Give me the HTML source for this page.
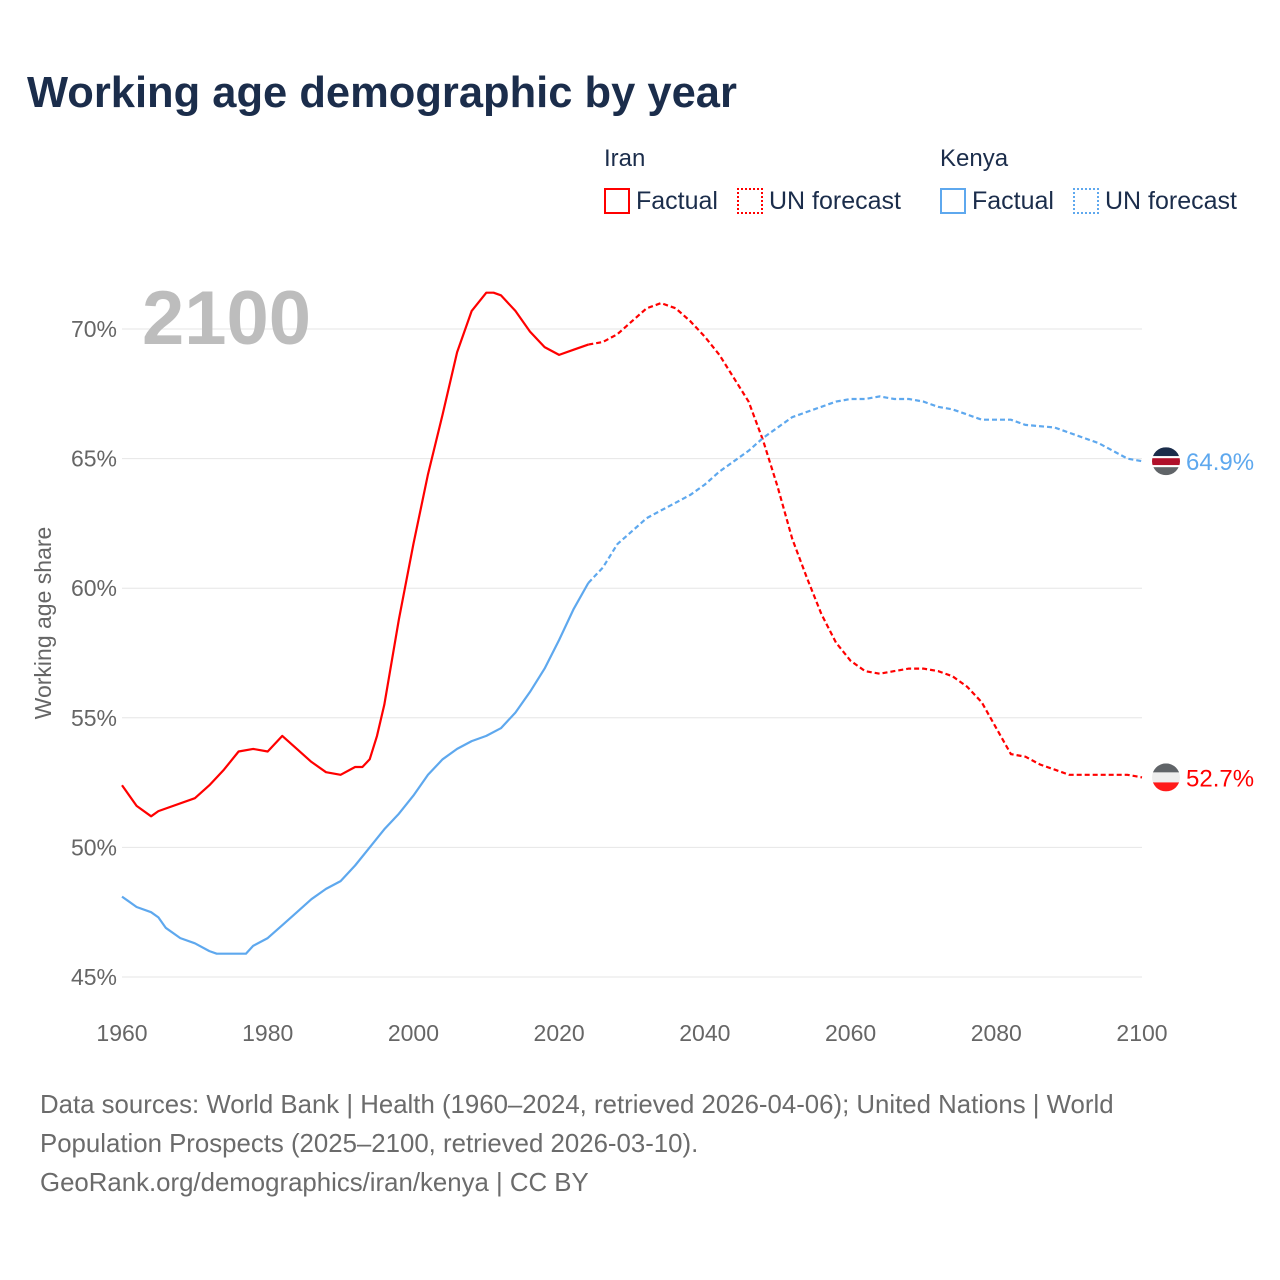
<!DOCTYPE html>
<html><head><meta charset="utf-8">
<style>
body{margin:0;background:#fff;font-family:"Liberation Sans",sans-serif;}
#wrap{position:relative;width:1280px;height:1280px;overflow:hidden;}
.t{position:absolute;white-space:nowrap;}
</style></head>
<body>
<div id="wrap">
<div class="t" style="left:27px;top:69px;font-size:43.5px;font-weight:bold;color:#1b2d4b;">Working age demographic by year</div>
<div class="t" style="left:604px;top:145px;font-size:24px;color:#1b2d4b;">Iran</div>
<div class="t" style="left:940px;top:145px;font-size:24px;color:#1b2d4b;">Kenya</div>
<div class="t" style="left:604px;top:187px;font-size:25px;color:#1b2d4b;"><span style="display:inline-block;width:26px;height:26px;border:2px solid #f00;vertical-align:-5px;margin-right:6px;box-sizing:border-box"></span>Factual</div>
<div class="t" style="left:737px;top:187px;font-size:25px;color:#1b2d4b;"><span style="display:inline-block;width:26px;height:26px;border:2px dotted #f00;vertical-align:-5px;margin-right:6px;box-sizing:border-box"></span>UN forecast</div>
<div class="t" style="left:940px;top:187px;font-size:25px;color:#1b2d4b;"><span style="display:inline-block;width:26px;height:26px;border:2px solid #5ea8ee;vertical-align:-5px;margin-right:6px;box-sizing:border-box"></span>Factual</div>
<div class="t" style="left:1073px;top:187px;font-size:25px;color:#1b2d4b;"><span style="display:inline-block;width:26px;height:26px;border:2px dotted #5ea8ee;vertical-align:-5px;margin-right:6px;box-sizing:border-box"></span>UN forecast</div>
<svg id="chart" width="1280" height="1280" style="position:absolute;left:0;top:0"></svg>
<div class="t" style="left:40px;top:1086px;font-size:25.8px;line-height:39px;color:#6b6b6b;">Data sources: World Bank | Health (1960–2024, retrieved 2026-04-06); United Nations | World<br>Population Prospects (2025–2100, retrieved 2026-03-10).<br>GeoRank.org/demographics/iran/kenya | CC BY</div>
</div>
<script>
const years=[1960,1962,1964,1965,1970,1972,1974,1976,1978,1980,1982,1984,1986,1988,1990,1992,1993,1994,1995,1996,1998,2000,2002,2004,2006,2008,2010,2011,2012,2014,2016,2018,2020,2022,2024,2026,2028,2030,2032,2034,2036,2038,2040,2042,2044,2046,2048,2050,2052,2054,2056,2058,2060,2062,2064,2066,2068,2070,2072,2074,2076,2078,2080,2082,2084,2086,2088,2090,2095,2098,2100];
const iran=[52.4,51.6,51.2,51.4,51.9,52.4,53.0,53.7,53.8,53.7,54.3,53.8,53.3,52.9,52.8,53.1,53.1,53.4,54.3,55.5,58.8,61.7,64.4,66.7,69.1,70.7,71.4,71.4,71.3,70.7,69.9,69.3,69.0,69.2,69.4,69.5,69.8,70.3,70.8,71.0,70.8,70.3,69.7,69.0,68.1,67.2,65.7,63.9,61.9,60.4,59.0,57.9,57.2,56.8,56.7,56.8,56.9,56.9,56.8,56.6,56.2,55.6,54.6,53.6,53.5,53.2,53.0,52.8,52.8,52.8,52.7];
const kyears=[1960,1962,1964,1965,1966,1968,1970,1972,1973,1977,1978,1980,1982,1984,1986,1988,1990,1992,1994,1996,1998,2000,2002,2004,2006,2008,2010,2012,2014,2016,2018,2020,2022,2024,2026,2028,2030,2032,2034,2036,2038,2040,2042,2044,2046,2048,2050,2052,2054,2056,2058,2060,2062,2064,2066,2068,2070,2072,2074,2076,2078,2080,2082,2084,2088,2090,2092,2094,2096,2098,2100];
const kenya=[48.1,47.7,47.5,47.3,46.9,46.5,46.3,46.0,45.9,45.9,46.2,46.5,47.0,47.5,48.0,48.4,48.7,49.3,50.0,50.7,51.3,52.0,52.8,53.4,53.8,54.1,54.3,54.6,55.2,56.0,56.9,58.0,59.2,60.2,60.8,61.7,62.2,62.7,63.0,63.3,63.6,64.0,64.5,64.9,65.3,65.8,66.2,66.6,66.8,67.0,67.2,67.3,67.3,67.4,67.3,67.3,67.2,67.0,66.9,66.7,66.5,66.5,66.5,66.3,66.2,66.0,65.8,65.6,65.3,65.0,64.9];
const yTicks=[45,50,55,60,65,70];
const xTicks=[1960,1980,2000,2020,2040,2060,2080,2100];
const lastFactual=2024;
const X=y=>122+(y-1960)*(1020/140);
const Y=v=>329+(70-v)*25.92;
const svg=document.getElementById('chart');
const NS='http://www.w3.org/2000/svg';
function mk(tag,attrs){const e=document.createElementNS(NS,tag);for(const k in attrs)e.setAttribute(k,attrs[k]);svg.appendChild(e);return e;}
yTicks.forEach(v=>{
 const l=mk('line',{x1:122,x2:1142,y1:Y(v),y2:Y(v),stroke:'#e6e6e6','stroke-width':1});
 
 
 const t=mk('text',{x:117,y:Y(v)+8,'text-anchor':'end','font-size':23,fill:'#666','font-family':'Liberation Sans,sans-serif'});
 t.textContent=v+'%';
 
 
});
xTicks.forEach(v=>{
 const t=mk('text',{x:X(v),y:1041,'text-anchor':'middle','font-size':23,fill:'#666','font-family':'Liberation Sans,sans-serif'});
 t.textContent=v;
 
 
});
const yt=mk('text',{x:0,y:0,transform:'translate(51,623) rotate(-90)','text-anchor':'middle','font-size':23,fill:'#666','font-family':'Liberation Sans,sans-serif'});
yt.textContent='Working age share';


const yr=mk('text',{x:142,y:344,'font-size':76,'font-weight':'bold',fill:'#bdbdbd','font-family':'Liberation Sans,sans-serif'});
yr.textContent='2100';


function series(xs,vs,color,name){
 let a='',b='';
 xs.forEach((x,i)=>{const p=X(x).toFixed(1)+','+Y(vs[i]).toFixed(1);
  if(x<=lastFactual)a+=(a?'L':'M')+p;
  if(x>=lastFactual)b+=(b?'L':'M')+p;});
 const p1=mk('path',{d:a,fill:'none',stroke:color,'stroke-width':2.2,'stroke-linejoin':'round'});
 
 
 const p2=mk('path',{d:b,fill:'none',stroke:color,'stroke-width':2.2,'stroke-dasharray':'5,3'});
 
 
}
series(years,iran,'#ff0000','iran');
series(kyears,kenya,'#5ea8ee','kenya');
function endMarker(v,color,name,flag){
 const cy=Y(v),cx=1166;
 const g=document.createElementNS(NS,'g');svg.appendChild(g);
 
 
 const cl=document.createElementNS(NS,'clipPath');cl.setAttribute('id','c'+name);
 const cc=document.createElementNS(NS,'circle');cc.setAttribute('cx',cx);cc.setAttribute('cy',cy);cc.setAttribute('r',14);cl.appendChild(cc);g.appendChild(cl);
 flag.forEach(([c,y0,h])=>{const r=document.createElementNS(NS,'rect');r.setAttribute('x',cx-14);r.setAttribute('y',cy-14+y0);r.setAttribute('width',28);r.setAttribute('height',h);r.setAttribute('fill',c);r.setAttribute('clip-path','url(#c'+name+')');g.appendChild(r);});
 const t=mk('text',{x:1186,y:cy+9,'font-size':24,fill:color,'font-family':'Liberation Sans,sans-serif'});
 t.textContent=v.toFixed(1)+'%';
 
 
}
endMarker(kenya[kenya.length-1],'#5ea8ee','kenya',[['#1b2d4b',0,9],['#fff',9,2],['#b0102a',11,7],['#fff',18,2],['#606468',20,8]]);
endMarker(iran[iran.length-1],'#ff0000','iran',[['#606468',0,9],['#eee',9,10],['#ff1a1a',19,9]]);
</script>
</body></html>
